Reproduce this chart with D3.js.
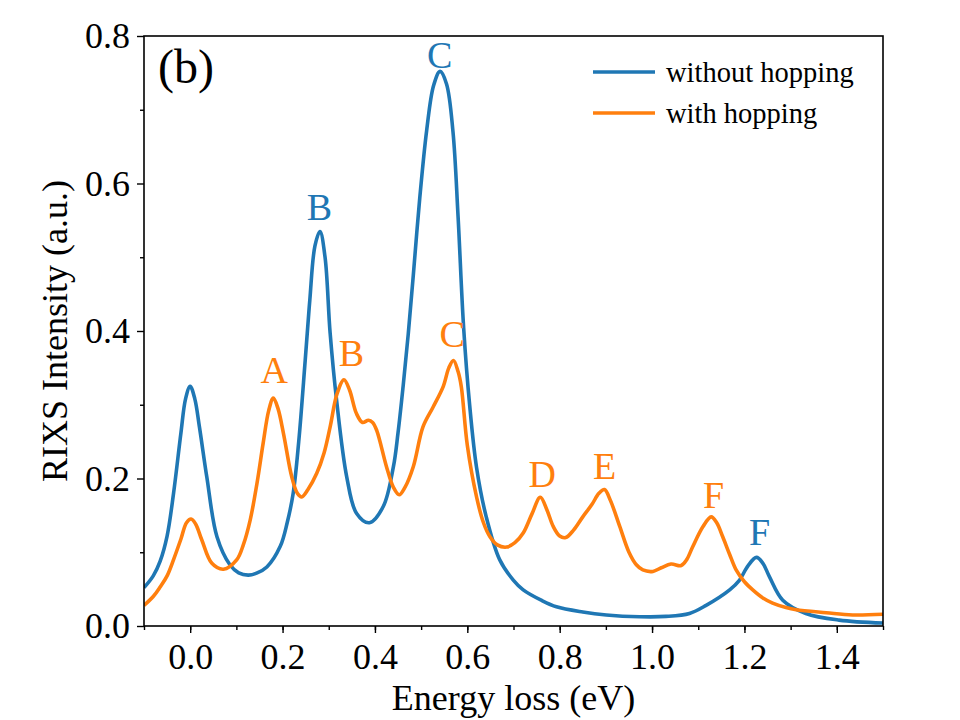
<!DOCTYPE html>
<html>
<head>
<meta charset="utf-8">
<script src="https://cdn.jsdelivr.net/npm/d3@7"></script>
<style>
  body { margin: 0; background: #fff; }
  text { font-family: "Liberation Serif", "Times New Roman", serif; }
</style>
</head>
<body>
<svg id="chart" width="960" height="720"></svg>
<script>
// energy loss (eV) / RIXS intensity
var energyNoHop = [-0.100,-0.080,-0.065,-0.050,-0.036,-0.020,-0.010,0.000,0.010,0.020,0.036,0.058,0.086,0.105,0.126,0.145,0.166,0.195,0.210,0.223,0.235,0.249,0.259,0.270,0.281,0.292,0.303,0.317,0.339,0.360,0.388,0.418,0.440,0.450,0.461,0.472,0.483,0.497,0.512,0.527,0.541,0.555,0.569,0.580,0.592,0.605,0.620,0.641,0.670,0.700,0.721,0.760,0.793,0.850,0.901,0.973,1.030,1.081,1.117,1.168,1.189,1.208,1.226,1.240,1.254,1.283,1.333,1.405,1.500];
var intensityNoHop = [0.052,0.068,0.088,0.122,0.180,0.262,0.308,0.325,0.308,0.270,0.202,0.121,0.083,0.072,0.069,0.072,0.080,0.108,0.140,0.180,0.250,0.360,0.442,0.515,0.535,0.500,0.397,0.306,0.202,0.153,0.140,0.162,0.216,0.262,0.325,0.395,0.475,0.580,0.672,0.733,0.752,0.735,0.670,0.555,0.405,0.300,0.215,0.148,0.090,0.062,0.049,0.035,0.026,0.019,0.015,0.0126,0.013,0.017,0.028,0.049,0.062,0.082,0.093,0.085,0.067,0.035,0.017,0.008,0.004];

var energyHop = [-0.100,-0.080,-0.065,-0.050,-0.036,-0.020,-0.008,0.002,0.012,0.025,0.047,0.072,0.101,0.115,0.130,0.145,0.158,0.170,0.180,0.190,0.202,0.220,0.232,0.2415,0.255,0.274,0.290,0.303,0.318,0.333,0.345,0.360,0.373,0.386,0.395,0.404,0.425,0.440,0.4525,0.465,0.483,0.504,0.526,0.548,0.560,0.570,0.580,0.587,0.600,0.620,0.635,0.649,0.665,0.685,0.703,0.721,0.740,0.758,0.772,0.786,0.800,0.813,0.830,0.850,0.870,0.885,0.897,0.910,0.930,0.950,0.966,0.980,1.002,1.020,1.041,1.063,1.075,1.088,1.110,1.128,1.140,1.153,1.168,1.182,1.200,1.218,1.240,1.261,1.290,1.312,1.377,1.434,1.500];
var intensityHop = [0.028,0.040,0.053,0.068,0.090,0.118,0.140,0.145,0.138,0.117,0.085,0.077,0.090,0.110,0.144,0.195,0.248,0.292,0.309,0.295,0.261,0.202,0.180,0.175,0.185,0.207,0.235,0.270,0.315,0.334,0.320,0.288,0.276,0.279,0.276,0.265,0.216,0.188,0.178,0.188,0.216,0.270,0.297,0.325,0.350,0.360,0.345,0.3245,0.245,0.175,0.140,0.121,0.110,0.107,0.113,0.126,0.152,0.1745,0.158,0.135,0.122,0.120,0.130,0.148,0.165,0.180,0.185,0.170,0.135,0.100,0.083,0.076,0.074,0.079,0.084,0.082,0.090,0.1075,0.1346,0.148,0.140,0.121,0.097,0.076,0.060,0.049,0.038,0.031,0.025,0.022,0.018,0.015,0.016];

var seriesNames = ["without hopping", "with hopping"];
var seriesColors = ["#1f77b4", "#ff7f0e"];

// peak letters: [label, energy, intensity of label baseline]
var peakLabelsNoHop = [["B", 0.280, 0.550], ["C", 0.540, 0.756], ["F", 1.233, 0.110]];
var peakLabelsHop = [["A", 0.182, 0.329], ["B", 0.349, 0.352], ["C", 0.567, 0.378], ["D", 0.762, 0.188], ["E", 0.897, 0.200], ["F", 1.133, 0.160]];

var xTicks = [0.0, 0.2, 0.4, 0.6, 0.8, 1.0, 1.2, 1.4];
var yTicks = [0.0, 0.2, 0.4, 0.6, 0.8];

var margin = {top: 36, right: 77, bottom: 94, left: 144};
var width = 960 - margin.left - margin.right;
var height = 720 - margin.top - margin.bottom;

var svg = d3.select("#chart");
var g = svg.append("g").attr("transform", "translate(" + margin.left + "," + margin.top + ")");

var x = d3.scaleLinear().domain([-0.1, 1.5]).range([0, width]);
var y = d3.scaleLinear().domain([0, 0.8]).range([height, 0]);

g.append("defs").append("clipPath").attr("id", "clip")
  .append("rect").attr("width", width).attr("height", height);

var line = d3.line()
  .x(function(d) { return x(d[0]); })
  .y(function(d) { return y(d[1]); })
  .curve(d3.curveCatmullRom.alpha(0.5));

var noHop = d3.zip(energyNoHop, intensityNoHop);
var hop = d3.zip(energyHop, intensityHop);

g.append("path").datum(noHop)
  .attr("clip-path", "url(#clip)")
  .attr("d", line).attr("fill", "none")
  .attr("stroke", seriesColors[0]).attr("stroke-width", 3.6)
  .attr("stroke-linejoin", "round");

g.append("path").datum(hop)
  .attr("clip-path", "url(#clip)")
  .attr("d", line).attr("fill", "none")
  .attr("stroke", seriesColors[1]).attr("stroke-width", 3.6)
  .attr("stroke-linejoin", "round");

// axes
var xAxis = d3.axisBottom(x).tickValues(xTicks).tickFormat(d3.format(".1f")).tickSize(7).tickPadding(10);
var xMinor = d3.axisBottom(x).tickValues(d3.range(-0.1, 1.51, 0.1)).tickFormat("").tickSize(4);
var yAxis = d3.axisLeft(y).tickValues(yTicks).tickFormat(d3.format(".1f")).tickSize(7).tickPadding(7);
var yMinor = d3.axisLeft(y).tickValues(d3.range(0.1, 0.8, 0.2)).tickFormat("").tickSize(4);

function styleAxis(sel) {
  sel.select(".domain").remove();
  sel.selectAll("line").attr("stroke", "#000").attr("stroke-width", 1.4);
  sel.selectAll("text").attr("font-size", 36).attr("fill", "#000")
    .attr("font-family", "'Liberation Serif', 'Times New Roman', serif");
}

g.append("g").attr("transform", "translate(0," + height + ")").call(xMinor).call(styleAxis);
g.append("g").attr("transform", "translate(0," + height + ")").call(xAxis).call(styleAxis);
g.append("g").call(yMinor).call(styleAxis);
g.append("g").call(yAxis).call(styleAxis);

g.append("rect").attr("width", width).attr("height", height)
  .attr("fill", "none").attr("stroke", "#000").attr("stroke-width", 1.6);

// axis titles
g.append("text")
  .attr("x", width / 2).attr("y", height + 84)
  .attr("text-anchor", "middle").attr("font-size", 36)
  .text("Energy loss (eV)");

g.append("text")
  .attr("transform", "translate(" + (-77) + "," + (height / 2) + ") rotate(-90)")
  .attr("text-anchor", "middle").attr("font-size", 36)
  .text("RIXS Intensity (a.u.)");

// panel tag
g.append("text").attr("x", 14).attr("y", 47).attr("font-size", 48).text("(b)");

// peak letters
g.selectAll(".lbl-nohop").data(peakLabelsNoHop).enter().append("text")
  .attr("x", function(d) { return x(d[1]); })
  .attr("y", function(d) { return y(d[2]); })
  .attr("text-anchor", "middle").attr("font-size", 38)
  .attr("fill", seriesColors[0])
  .text(function(d) { return d[0]; });

g.selectAll(".lbl-hop").data(peakLabelsHop).enter().append("text")
  .attr("x", function(d) { return x(d[1]); })
  .attr("y", function(d) { return y(d[2]); })
  .attr("text-anchor", "middle").attr("font-size", 38)
  .attr("fill", seriesColors[1])
  .text(function(d) { return d[0]; });

// legend
var legend = g.append("g").attr("transform", "translate(449,36)");
seriesNames.forEach(function(name, i) {
  var row = legend.append("g").attr("transform", "translate(0," + (i * 41) + ")");
  row.append("line").attr("x1", 0).attr("x2", 62).attr("y1", 0).attr("y2", 0)
    .attr("stroke", seriesColors[i]).attr("stroke-width", 3.6);
  row.append("text").attr("x", 73).attr("y", 10).attr("font-size", 28.5).text(name);
});
</script>
</body>
</html>
